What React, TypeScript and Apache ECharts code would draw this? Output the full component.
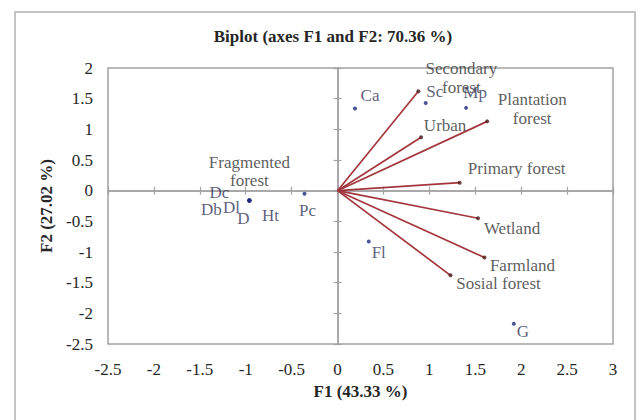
import React, { useEffect, useRef } from "react";
import * as echarts from "echarts";

// ---- data ----
const vectorNames = ["Secondary\nforest", "Urban", "Plantation\nforest", "Primary forest", "Wetland", "Farmland", "Sosial forest"];
const vectorF1 = [0.88, 0.91, 1.63, 1.33, 1.53, 1.6, 1.23];
const vectorF2 = [1.62, 0.87, 1.13, 0.13, -0.45, -1.09, -1.38];

const pointNames = ["Ca", "Sc", "Mp", "Fl", "G", "Pc", "Fragmented\nforest", "Dc", "Db", "Dl", "D", "Ht"];
const pointF1 = [0.19, 0.96, 1.4, 0.34, 1.92, -0.36, -0.96, -0.96, -0.96, -0.96, -0.96, -0.96];
const pointF2 = [1.34, 1.43, 1.35, -0.83, -2.17, -0.05, -0.16, -0.16, -0.16, -0.16, -0.16, -0.16];

const xMin = -2.5, xMax = 3, yMin = -2.5, yMax = 2, step = 0.5;
const titleText = "Biplot (axes F1 and F2: 70.36 %)";
const xTitle = "F1 (43.33 %)";
const yTitle = "F2 (27.02 %)";

// ---- label placement (layout only) ----
const vectorLabelOffset: Record<string, [number, number]> = {
  "Secondary\nforest": [43, -13],
  Urban: [24, -12],
  "Plantation\nforest": [45, -12],
  "Primary forest": [57, -14],
  Wetland: [34, 10],
  Farmland: [38, 8],
  "Sosial forest": [48, 8],
};
const pointLabelOffset: Record<string, [number, number]> = {
  Ca: [15, -13],
  Sc: [9, -11],
  Mp: [9, -15],
  Fl: [10, 11],
  G: [9, 8],
  Pc: [3, 17],
  "Fragmented\nforest": [0, -29],
  Dc: [-30, -8],
  Db: [-38, 9],
  Dl: [-18, 7],
  D: [-6, 18],
  Ht: [21, 15],
};

const FONT = "'Liberation Serif', 'Times New Roman', serif";
const GRAY = "#a3a3a3";
const TEXT = "#262626";

export default function App() {
  const ref = useRef<HTMLDivElement>(null);
  useEffect(() => {
    if (!ref.current) return;
    const chart = echarts.init(ref.current, undefined, { renderer: "svg" });
    const valueAxisBase = { type: "value" as const, min: xMin, max: xMax, interval: step };
    const zeroLine = { show: true, onZero: true, onZeroAxisIndex: 0, lineStyle: { color: GRAY, width: 1.5 } };
    const zeroTick = { show: true, length: 4, lineStyle: { color: GRAY, width: 1.2 } };
    const option: any = {
      animation: false,
      backgroundColor: "#fff",
      title: {
        text: titleText,
        left: 328,
        top: 23,
        textAlign: "center",
        textStyle: { fontFamily: FONT, fontSize: 17, fontWeight: "bold", color: TEXT },
      },
      graphic: [
        {
          type: "rect",
          shape: { x: 15, y: 12, width: 620, height: 430 },
          style: { fill: "none", stroke: "#c4c4c4", lineWidth: 2 },
          silent: true,
          z: -1,
        },
      ],
      grid: {
        left: 108,
        top: 68,
        width: 505,
        height: 276,
        show: true,
        borderColor: GRAY,
        borderWidth: 1.5,
        backgroundColor: "transparent",
      },
      xAxis: [
        {
          ...valueAxisBase,
          position: "bottom",
          axisLine: { show: false, onZero: false },
          axisTick: { show: false },
          splitLine: { show: false },
          axisLabel: { fontFamily: FONT, fontSize: 17, color: TEXT, margin: 17 },
          name: xTitle,
          nameLocation: "middle",
          nameGap: 38,
          nameTextStyle: { fontFamily: FONT, fontSize: 17, fontWeight: "bold", color: TEXT },
        },
        {
          ...valueAxisBase,
          position: "bottom",
          axisLine: zeroLine,
          axisTick: zeroTick,
          axisLabel: { show: false },
          splitLine: { show: false },
        },
        {
          ...valueAxisBase,
          position: "top",
          axisLine: zeroLine,
          axisTick: zeroTick,
          axisLabel: { show: false },
          splitLine: { show: false },
        },
      ],
      yAxis: [
        {
          type: "value",
          min: yMin,
          max: yMax,
          interval: step,
          position: "left",
          axisLine: { show: false, onZero: false },
          axisTick: { show: false },
          splitLine: { show: false },
          axisLabel: { fontFamily: FONT, fontSize: 17, color: TEXT, margin: 15 },
          name: yTitle,
          nameLocation: "middle",
          nameGap: 52,
          nameTextStyle: { fontFamily: FONT, fontSize: 17, fontWeight: "bold", color: TEXT },
        },
        {
          type: "value",
          min: yMin,
          max: yMax,
          interval: step,
          position: "left",
          axisLine: zeroLine,
          axisTick: zeroTick,
          axisLabel: { show: false },
          splitLine: { show: false },
        },
        {
          type: "value",
          min: yMin,
          max: yMax,
          interval: step,
          position: "right",
          axisLine: zeroLine,
          axisTick: zeroTick,
          axisLabel: { show: false },
          splitLine: { show: false },
        },
      ],
      series: [
        {
          type: "lines",
          coordinateSystem: "cartesian2d",
          xAxisIndex: 0,
          yAxisIndex: 0,
          silent: true,
          z: 3,
          lineStyle: { color: "#a3363d", width: 1.7, opacity: 1 },
          data: vectorF1.map((x, i) => ({ coords: [[0, 0], [x, vectorF2[i]]] })),
        },
        {
          type: "scatter",
          xAxisIndex: 0,
          yAxisIndex: 0,
          symbol: "circle",
          symbolSize: 4,
          z: 4,
          itemStyle: { color: "#4a1818" },
          label: {
            show: true,
            position: "inside",
            formatter: (p: any) => p.name,
            fontFamily: FONT,
            fontSize: 17,
            color: "#333333",
            lineHeight: 19,
          },
          data: vectorNames.map((n, i) => ({
            name: n,
            value: [vectorF1[i], vectorF2[i]],
            label: { offset: vectorLabelOffset[n] || [0, 0] },
          })),
        },
        {
          type: "scatter",
          xAxisIndex: 0,
          yAxisIndex: 0,
          symbol: "circle",
          symbolSize: 4,
          z: 5,
          itemStyle: { color: "#1f2a80" },
          label: {
            show: true,
            position: "inside",
            formatter: (p: any) => p.name,
            fontFamily: FONT,
            fontSize: 17,
            color: "#33365a",
            lineHeight: 18,
          },
          data: pointNames.map((n, i) => ({
            name: n,
            value: [pointF1[i], pointF2[i]],
            label: {
              offset: pointLabelOffset[n] || [0, 0],
              color: n.indexOf("\n") >= 0 ? "#333333" : "#33365a",
            },
          })),
        },
      ],
    };
    chart.setOption(option);
    return () => chart.dispose();
  }, []);
  return (
    <div
      ref={ref}
      style={{ position: "fixed", left: 0, top: 0, width: 644, height: 420, background: "#fff" }}
    />
  );
}
